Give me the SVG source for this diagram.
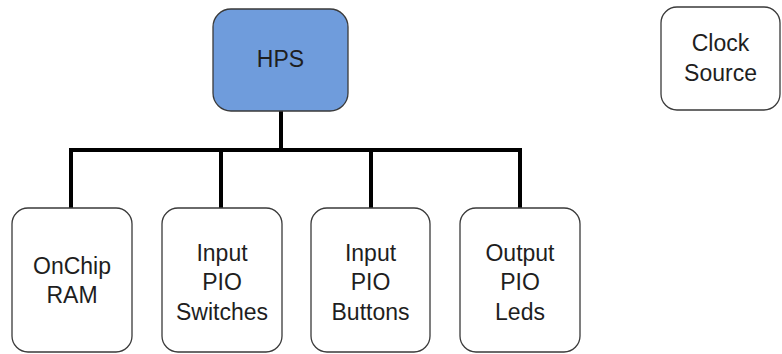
<svg xmlns="http://www.w3.org/2000/svg" width="782" height="354" viewBox="0 0 782 354">
<style>
.box{fill:#ffffff;stroke:#3a3a3a;stroke-width:1.3}
.hps{fill:#6f9cdc;stroke:#3a3a3a;stroke-width:1.3}
text{font-family:"Liberation Sans",Arial,sans-serif;font-size:23px;fill:#1e1e1e;text-anchor:middle}
.conn{fill:none;stroke:#000;stroke-width:4;stroke-linecap:square}
</style>
<rect width="782" height="354" fill="#fff"/>
<g id="connectors">
<path class="conn" d="M281 111 V150 M71 150 H520 M71 150 V208 M221 150 V208 M371 150 V208 M520 150 V208"/>
</g>
<g id="hps"><rect class="hps" x="213" y="9" width="135" height="102" rx="18"/><text x="280.5" y="67">HPS</text></g>
<g id="clock"><rect class="box" x="661" y="7" width="119" height="103" rx="16"/><text x="720.5" y="51">Clock</text><text x="720.5" y="81">Source</text></g>
<g id="onchip"><rect class="box" x="12" y="208" width="120" height="144" rx="16"/><text x="72" y="274">OnChip</text><text x="72" y="303">RAM</text></g>
<g id="switches"><rect class="box" x="162" y="208" width="120" height="144" rx="16"/><text x="222" y="261">Input</text><text x="222" y="290">PIO</text><text x="222" y="320">Switches</text></g>
<g id="buttons"><rect class="box" x="311" y="208" width="119" height="144" rx="16"/><text x="370.5" y="261">Input</text><text x="370.5" y="290">PIO</text><text x="370.5" y="320">Buttons</text></g>
<g id="leds"><rect class="box" x="460" y="208" width="120" height="144" rx="16"/><text x="520" y="261">Output</text><text x="520" y="290">PIO</text><text x="520" y="320">Leds</text></g>
</svg>
